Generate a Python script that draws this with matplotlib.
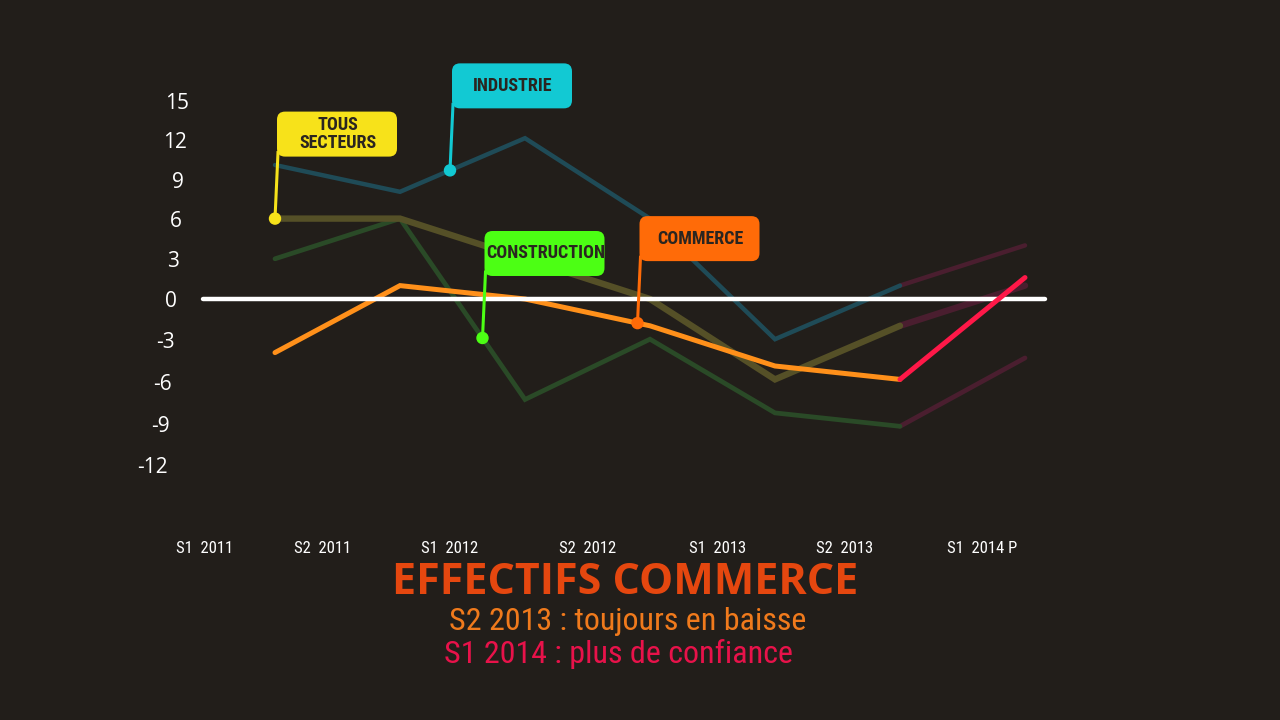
import matplotlib
matplotlib.use("Agg")
import matplotlib.pyplot as plt
import numpy as np
import os
from matplotlib.patches import FancyBboxPatch, Circle
from matplotlib.lines import Line2D
from matplotlib.transforms import IdentityTransform
from matplotlib import font_manager as fm

# ---- data ----
periods = ["S1  2011", "S2  2011", "S1  2012", "S2  2012", "S1  2013", "S2  2013", "S1  2014 P"]
industrie = [10, 8, 12, 6, -3, 1, 4]
tous_secteurs = [6, 6, 3, 0, -6, -2, 1]
construction = [3, 6, -7.5, -3, -8.5, -9.5, -4.4]
commerce = [-4, 1, 0, -2, -5, -6, 1.6]
y_ticks = [15, 12, 9, 6, 3, 0, -3, -6, -9, -12]
callout_labels = ["TOUS\nSECTEURS", "INDUSTRIE", "CONSTRUCTION", "COMMERCE"]
callout_x = [0, 1.4, 1.66, 2.9]


# ---- fonts: look for a condensed face, else fall back ----
def find_condensed(bold):
    files = [f.fname for f in fm.fontManager.ttflist]
    prefs = (["LiberationSansNarrow-Bold", "RobotoCondensed-Bold", "OpenSans_Condensed-Bold",
              "OpenSansCondensed-Bold", "OpenSans-CondBold", "DejaVuSansCondensed-Bold",
              "NotoSans-CondensedBold", "Roboto_Condensed-Bold"] if bold else
             ["LiberationSansNarrow-Regular", "RobotoCondensed-Regular", "OpenSans_Condensed-Regular",
              "OpenSansCondensed-Regular", "DejaVuSansCondensed.", "NotoSans-Condensed.",
              "Roboto_Condensed-Regular"])
    for p in prefs:
        for fn in files:
            if p.lower() in os.path.basename(fn).lower():
                return fn
    for fn in files:
        b = os.path.basename(fn).lower()
        if ("condensed" in b or "narrow" in b) and "italic" not in b and "oblique" not in b:
            if bold == ("bold" in b):
                return fn
    return None


cond_reg = find_condensed(False)
cond_bold = find_condensed(True)


def fp_reg(size):
    if cond_reg:
        return fm.FontProperties(fname=cond_reg, size=size)
    return fm.FontProperties(family=["Roboto", "DejaVu Sans"], size=size * 0.9)


def fp_bold(size):
    if cond_bold:
        return fm.FontProperties(fname=cond_bold, size=size)
    return fm.FontProperties(family=["Roboto", "DejaVu Sans"], weight="bold", size=size * 0.9)


# ---- style ----
BG = "#221e1a"
C_IND = "#1f4b57"
C_TOUS = "#555027"
C_CONS = "#2a4a27"
C_COM = "#ff901a"
C_FADE = "#4a1e2f"
C_RED = "#ff1848"
box_colors = ["#f7e21a", "#12c9d3", "#4cff14", "#ff6b08"]

fig = plt.figure(figsize=(12.8, 7.2), dpi=100, facecolor=BG)
ax = fig.add_axes([125 / 1280, 220 / 720, 1000 / 1280, 442.2 / 720])
ax.set_facecolor(BG)
ax.set_xlim(-1.2, 6.8)
ax.set_ylim(-15, 18)
ax.axis("off")

x = np.arange(len(periods))
n = len(periods) - 1  # index of forecast point

# zero line (above the series lines, below the red forecast)
ax.plot([-0.58, 6.16], [0, 0], color="white", lw=3.2, solid_capstyle="round", zorder=4.5)

# forecast segments
for s, lw in [(industrie, 3.2), (construction, 3.4), (tous_secteurs, 4.6)]:
    ax.plot(x[n - 1:], s[n - 1:], color=C_FADE, lw=lw, solid_capstyle="round", zorder=2)
ax.plot(x[n - 1:], commerce[n - 1:], color=C_RED, lw=3.6, solid_capstyle="round", zorder=5)

# historical segments
kw = dict(solid_capstyle="round", solid_joinstyle="miter")
ax.plot(x[:n], industrie[:n], color=C_IND, lw=3.2, zorder=3, **kw)
ax.plot(x[:n], construction[:n], color=C_CONS, lw=3.4, zorder=3, **kw)
ax.plot(x[:n], tous_secteurs[:n], color=C_TOUS, lw=4.6, zorder=3, **kw)
ax.plot(x[:n], commerce[:n], color=C_COM, lw=3.6, zorder=4, **kw)

# y tick labels (slightly slanted / uneven placement as in the reference)
for v in y_ticks:
    xr = (177 + 0.8 * v - 275) / 125
    yl = v * (13.2 if v > 0 else 13.9) / 13.4 - 0.56
    ax.text(xr, yl, str(v), ha="right", va="baseline", color="white",
            fontsize=15, family=["Open Sans", "DejaVu Sans"], clip_on=False)

# x tick labels
tick_x = [-0.56, 0.38, 1.4, 2.5, 3.54, 4.56, 5.66]
for tx, lab in zip(tick_x, periods):
    ax.text(tx, -18.6, lab, ha="center", va="center", color="white",
            fontproperties=fp_reg(12), clip_on=False)

# callouts
fig.canvas.draw()
series_list = [tous_secteurs, industrie, construction, commerce]
for lab, cx, s, bc in zip(callout_labels, callout_x, series_list, box_colors):
    cy = np.interp(cx, x, s)
    mx, my = ax.transData.transform((cx, cy))
    bx, by = mx + 2, my + 62
    bw, bh = 120, 45
    fig.add_artist(Line2D([mx, bx + 1], [my, by + 4], color=bc, lw=2.2,
                          transform=IdentityTransform(), zorder=6))
    fig.add_artist(Circle((mx, my), 5.5, color=bc, transform=IdentityTransform(), zorder=7))
    fig.add_artist(FancyBboxPatch((bx, by), bw, bh,
                                  boxstyle="round,pad=0,rounding_size=8",
                                  fc=bc, ec="none", transform=IdentityTransform(), zorder=6))
    fig.text(bx + bw / 2 + 1, by + bh / 2, lab, transform=IdentityTransform(),
             ha="center", va="center", color="#2a2520", fontproperties=fp_bold(13),
             linespacing=1.0, zorder=8)

# titles
fig.text(625 / 1280, 1 - 583 / 720, "EFFECTIFS COMMERCE", ha="center", va="center",
         color="#e5470f", fontsize=31, fontweight="bold",
         family=["Open Sans", "DejaVu Sans"])
fig.text(628 / 1280, 1 - 621 / 720, "S2 2013 : toujours en baisse", ha="center", va="center",
         color="#f07a1c", fontproperties=fp_reg(23))
fig.text(618 / 1280, 1 - 654 / 720, "S1 2014 : plus de confiance", ha="center", va="center",
         color="#e8124a", fontproperties=fp_reg(23))

fig.savefig("out.png", dpi=100, facecolor=BG)
